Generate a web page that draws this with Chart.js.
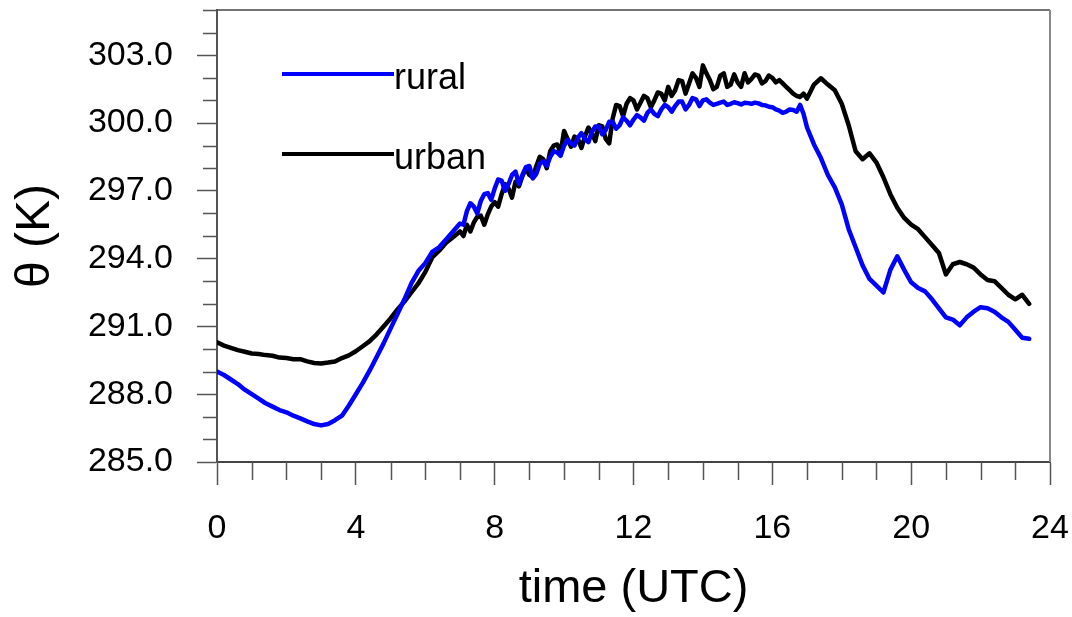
<!DOCTYPE html>
<html>
<head>
<meta charset="utf-8">
<script src="https://cdn.jsdelivr.net/npm/chart.js@4/dist/chart.umd.min.js"></script>
<style>
html,body{margin:0;padding:0;background:#fff;}
#wrap{width:1072px;height:617px;position:relative;}
</style>
</head>
<body>
<div id="wrap"><canvas id="c" width="1072" height="617"></canvas></div>
<script>
// ---- data ----
const times = [0,0.2,0.4,0.6,0.8,1.0,1.2,1.4,1.6,1.8,2.0,2.2,2.4,2.6,2.8,3.0,3.2,3.4,3.6,3.8,
4.0,4.2,4.4,4.6,4.8,5.0,5.2,5.4,5.6,5.8,6.0,6.2,6.4,6.6,6.8,
7.0,7.1,7.2,7.3,7.4,7.5,7.6,7.7,7.8,7.9,
8.0,8.1,8.2,8.3,8.4,8.5,8.6,8.7,8.8,8.9,
9.0,9.1,9.2,9.3,9.4,9.5,9.6,9.7,9.8,9.9,
10.0,10.1,10.2,10.3,10.4,10.5,10.6,10.7,10.8,10.9,
11.0,11.1,11.2,11.3,11.4,11.5,11.6,11.7,11.8,11.9,
12.0,12.1,12.2,12.3,12.4,12.5,12.6,12.7,12.8,12.9,
13.0,13.1,13.2,13.3,13.4,13.5,13.6,13.7,13.8,13.9,
14.0,14.1,14.2,14.3,14.4,14.5,14.6,14.7,14.8,14.9,
15.0,15.1,15.2,15.3,15.4,15.5,15.6,15.7,15.8,15.9,
16.0,16.1,16.2,16.3,16.4,16.5,16.6,16.7,16.8,16.9,
17.0,17.2,17.4,17.6,17.8,18.0,18.2,18.4,18.6,18.8,19.0,19.2,19.4,19.6,19.8,
20.0,20.2,20.4,20.6,20.8,21.0,21.2,21.4,21.6,21.8,22.0,22.2,22.4,22.6,22.8,23.0,23.2,23.4];

const rural = [289.0,288.85,288.65,288.45,288.2,288.0,287.8,287.6,287.45,287.3,287.2,287.05,286.93,286.8,286.68,286.62,286.68,286.85,287.05,287.5,
288.0,288.5,289.05,289.65,290.25,290.9,291.55,292.2,292.9,293.45,293.8,294.3,294.5,294.85,295.2,
295.55,295.5,296.1,296.45,296.3,296.0,296.55,296.85,296.9,296.6,
297.1,297.5,297.45,297.0,297.3,297.7,297.85,297.3,297.7,298.05,
298.1,297.55,297.75,298.2,298.3,298.1,298.5,298.75,298.7,298.55,
299.0,299.25,299.1,299.0,299.35,299.55,299.3,299.15,299.6,299.85,
299.85,299.5,299.7,300.05,300.05,299.75,299.9,300.25,300.1,299.9,
300.15,300.35,300.25,300.1,300.45,300.6,300.4,300.3,300.6,300.8,
300.7,300.5,300.75,300.95,300.95,300.6,300.8,301.1,301.05,300.75,
301.0,301.05,300.9,300.8,300.85,300.9,300.95,300.8,300.85,300.92,
300.88,300.82,300.9,300.88,300.85,300.9,300.87,300.8,300.78,300.72,
300.7,300.6,300.55,300.45,300.5,300.6,300.58,300.5,300.8,300.4,
299.8,299.05,298.45,297.7,297.15,296.4,295.3,294.5,293.7,293.1,292.8,292.5,293.5,294.1,293.5,
292.95,292.7,292.55,292.2,291.8,291.4,291.3,291.05,291.4,291.65,291.85,291.8,291.65,291.4,291.2,290.85,290.5,290.45];

const urban = [290.3,290.15,290.05,289.95,289.88,289.8,289.78,289.73,289.7,289.62,289.6,289.55,289.55,289.45,289.38,289.36,289.4,289.45,289.6,289.72,
289.9,290.12,290.35,290.65,291.0,291.35,291.75,292.1,292.5,292.9,293.4,294.05,294.35,294.7,294.95,
295.2,295.0,295.5,295.2,295.6,295.85,295.9,295.5,295.95,296.3,
296.5,296.3,296.85,297.3,297.1,296.7,297.4,297.2,297.65,298.0,
297.7,297.6,298.1,298.5,298.4,298.0,298.75,299.0,299.05,298.7,
299.65,299.3,298.95,299.4,299.3,298.9,299.4,299.8,299.55,299.2,
299.9,299.85,299.3,299.1,300.2,300.8,300.75,300.3,300.85,301.1,
301.0,300.6,300.9,301.2,301.1,300.7,301.0,301.35,301.3,301.0,
301.6,301.2,301.45,301.9,301.85,301.3,301.75,302.2,302.0,301.6,
302.55,302.2,301.9,301.5,301.6,302.1,302.2,301.6,301.7,302.15,
301.8,301.6,302.2,301.8,301.95,302.15,302.1,301.75,301.85,302.1,
302.0,301.8,301.9,301.75,301.6,301.45,301.3,301.2,301.15,301.3,
301.08,301.7,301.98,301.7,301.45,300.85,299.9,298.75,298.4,298.66,298.25,297.6,296.85,296.25,295.8,
295.5,295.3,294.95,294.6,294.25,293.3,293.75,293.85,293.75,293.6,293.3,293.05,293.0,292.7,292.4,292.2,292.4,292.0];

const seriesNames = ["rural", "urban"];
const xTickLabels = [0, 4, 8, 12, 16, 20, 24];
const yTickLabels = [285, 288, 291, 294, 297, 300, 303];
const xTitle = "time (UTC)";
const yTitle = "\u03b8 (K)";

// ---- chart ----
const FONT = "'Liberation Sans', Arial, Helvetica, sans-serif";
const TICKCOL = '#555';

function toXY(vals){ return vals.map((v,i)=>({x:times[i], y:v})); }

function noPad(s){ s.paddingTop = 0; s.paddingBottom = 0; s.paddingLeft = 0; s.paddingRight = 0; }

const frameAndTicks = {
  id: 'frameAndTicks',
  afterDraw(chart){
    const ctx = chart.ctx, a = chart.chartArea;
    const xs = chart.scales.x, ys = chart.scales.y;
    ctx.save();
    // minor ticks
    ctx.strokeStyle = TICKCOL; ctx.lineWidth = 1.5;
    ctx.beginPath();
    for (let v = 0; v <= 24; v++) {
      if (xTickLabels.includes(v)) continue;
      const px = Math.round(xs.getPixelForValue(v)) + 0.5;
      ctx.moveTo(px, a.bottom); ctx.lineTo(px, a.bottom + 18);
    }
    for (let v = 285; v <= 305; v++) {
      if (yTickLabels.includes(v)) continue;
      const py = Math.round(ys.getPixelForValue(v)) + 0.5;
      ctx.moveTo(a.left - 14, py); ctx.lineTo(a.left, py);
    }
    ctx.stroke();
    // top frame
    ctx.strokeStyle = '#444'; ctx.lineWidth = 1.5;
    ctx.beginPath(); ctx.moveTo(a.left, a.top); ctx.lineTo(a.right, a.top); ctx.stroke();
    // right frame
    ctx.strokeStyle = '#888'; ctx.lineWidth = 2;
    ctx.beginPath(); ctx.moveTo(a.right, a.top); ctx.lineTo(a.right, a.bottom); ctx.stroke();
    // legend
    const ds = chart.data.datasets;
    const legY = [74, 154];
    ctx.font = '36px ' + FONT;
    ctx.textBaseline = 'alphabetic';
    ctx.textAlign = 'left';
    ds.forEach((d, i) => {
      ctx.strokeStyle = d.borderColor; ctx.lineWidth = 4;
      ctx.beginPath(); ctx.moveTo(282, legY[i]); ctx.lineTo(394, legY[i]); ctx.stroke();
      ctx.fillStyle = '#000';
      ctx.fillText(d.label, 394, legY[i] + 15);
    });
    ctx.restore();
  }
};

new Chart(document.getElementById('c'), {
  type: 'line',
  data: {
    datasets: [
      { label: seriesNames[0], data: toXY(rural), borderColor: '#0000ff', borderWidth: 4.5, pointRadius: 0, tension: 0, fill: false, borderJoinStyle: 'round', borderCapStyle: 'round' },
      { label: seriesNames[1], data: toXY(urban), borderColor: '#000000', borderWidth: 4.5, pointRadius: 0, tension: 0, fill: false, borderJoinStyle: 'round', borderCapStyle: 'round' }
    ]
  },
  options: {
    responsive: false,
    animation: false,
    devicePixelRatio: 1,
    layout: { padding: { top: 10, right: 22, left: 0, bottom: 0 } },
    plugins: { legend: { display: false }, tooltip: { enabled: false } },
    scales: {
      x: {
        type: 'linear', position: 'bottom', min: 0, max: 24,
        afterFit(s){ s.height = 155; noPad(s); },
        ticks: {
          stepSize: 1, autoSkip: false, maxRotation: 0, padding: 23,
          font: { family: FONT, size: 34 }, color: '#000',
          callback: (v) => xTickLabels.includes(v) ? String(v) : ''
        },
        grid: {
          drawOnChartArea: false, drawTicks: true, tickLength: 23, tickWidth: 1.5,
          tickColor: (c) => xTickLabels.includes(c.tick && c.tick.value) ? TICKCOL : 'rgba(0,0,0,0)'
        },
        border: { display: true, color: '#444', width: 2 },
        title: { display: true, text: xTitle, font: { family: FONT, size: 47 }, color: '#000', padding: { top: 0, bottom: 0 } }
      },
      y: {
        type: 'linear', position: 'left', min: 285, max: 305,
        afterFit(s){ s.width = 217; noPad(s); },
        ticks: {
          stepSize: 1, autoSkip: false, padding: 24,
          font: { family: FONT, size: 34 }, color: '#000',
          callback: (v) => yTickLabels.includes(v) ? v.toFixed(1) : ''
        },
        grid: {
          drawOnChartArea: false, drawTicks: true, tickLength: 20, tickWidth: 1.5,
          tickColor: (c) => yTickLabels.includes(c.tick && c.tick.value) ? TICKCOL : 'rgba(0,0,0,0)'
        },
        border: { display: true, color: '#555', width: 2 },
        title: { display: true, text: yTitle, font: { family: FONT, size: 48 }, color: '#000', padding: { top: 7, bottom: 0 } }
      }
    }
  },
  plugins: [frameAndTicks]
});
</script>
</body>
</html>
